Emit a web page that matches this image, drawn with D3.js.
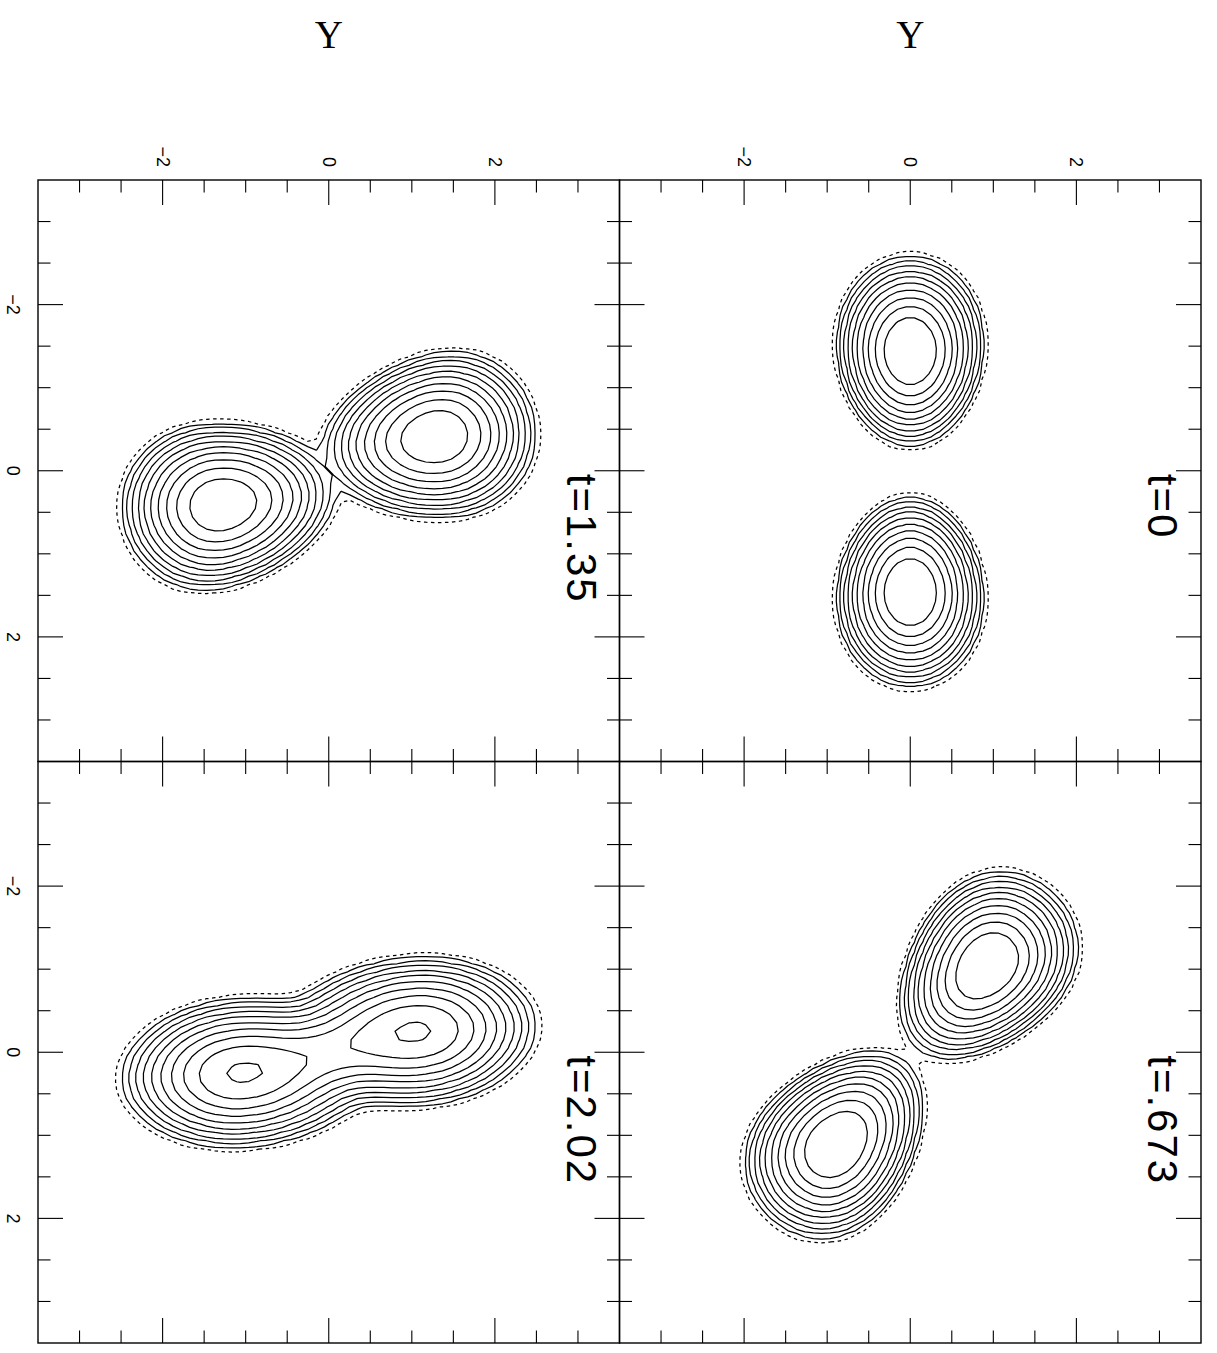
<!DOCTYPE html>
<html>
<head>
<meta charset="utf-8">
<script src="https://cdn.jsdelivr.net/npm/d3@7"></script>
<style>
	body { margin: 0; background: #fff; }
	svg { display: block; }
</style>
</head>
<body>
<svg width="1217" height="1353"></svg>
<script>

//Panels, in the order they were plotted.
var panelTimes  = ["t=0", "t=.673", "t=1.35", "t=2.02"];
var panelColumn = [1, 1, 0, 0];
var panelRow    = [0, 1, 0, 1];

//Axes: both run from -3.5 to 3.5.
var axisRange  = [-3.5, 3.5];
var majorTicks = [-2, 0, 2];
var minorTicks = [-3, -2.5, -2, -1.5, -1, -0.5, 0, 0.5, 1, 1.5, 2, 2.5, 3];

//Contour levels, a factor 2 apart; the lowest one is dashed.
var levels = [1, 0.5, 0.25, 0.125, 0.0625, 0.03125, 0.015625, 0.0078125,
	0.00390625, 0.001953125, 0.0009765625];

//Density lumps: centre, peak, width on the far side,
//width on the side facing the companion, width across, tilt, tidal taper.
var lumpPanel = [0, 0, 1, 1, 2, 2, 3, 3, 3];
var lumpX     = [-1.44, 1.46, -1.05, 1.12, -0.41, 0.41, -0.25, 0.25, 0];
var lumpY     = [0, 0, 0.93, -0.90, 1.30, -1.30, 1.065, -1.065, 0];
var lumpPeak  = [2.46, 2.46, 2.46, 2.46, 2.0, 2.0, 1.05, 1.05, 0.35];
var lumpFar   = [0.30, 0.30, 0.31, 0.31, 0.318, 0.318, 0.40, 0.40, 0.60];
var lumpNear  = [0.30, 0.30, 0.345, 0.345, 0.371, 0.371, 0.45, 0.45, 0.60];
var lumpWide  = [0.232, 0.232, 0.243, 0.243, 0.263, 0.263, 0.25, 0.25, 0.20];
var lumpTilt  = [90, 90, -50, -50, -10, -10, -4, -4, -13];
var lumpTaper = [0.06, 0.06, 0.12, 0.12, 0.1, 0.1, 0, 0, 0];

//Layout.
var frameLeft = 38, frameTop = 180, panelSize = 581.5;
var gridN = 70;
var longTick = 25, shortTick = 12.5;

var svg = d3.select("svg");

//Density of one panel at (X, Y).
function density(p, X, Y) {
	var total = 0;
	for (var i = 0; i < lumpPanel.length; i++) {
		if (lumpPanel[i] !== p) continue;
		var a = lumpTilt[i] * Math.PI / 180;
		var dY = Y - lumpY[i], dX = X - lumpX[i];
		var u = dY * Math.cos(a) + dX * Math.sin(a);
		var v = -dY * Math.sin(a) + dX * Math.cos(a);
		var toward = -(lumpY[i] * Math.cos(a) + lumpX[i] * Math.sin(a));
		var ut = (toward >= 0 ? 1 : -1) * u;
		var sLong = ut > 0 ? lumpNear[i] : lumpFar[i];
		var wide = lumpWide[i] * Math.exp(-lumpTaper[i] * Math.max(-1.5, Math.min(1.5, ut)));
		total += lumpPeak[i] * Math.exp(-u * u / (2 * sLong * sLong) - v * v / (2 * wide * wide));
	}
	return total;
}

var step = (axisRange[1] - axisRange[0]) / (gridN - 1);

panelTimes.forEach(function(label, p) {

	var left = frameLeft + panelColumn[p] * panelSize;
	var top = frameTop + panelRow[p] * panelSize;

	//Y runs to the right, X runs down the page.
	var sx = d3.scaleLinear().domain(axisRange).range([left, left + panelSize]);
	var sy = d3.scaleLinear().domain(axisRange).range([top, top + panelSize]);

	var g = svg.append("g");

//--------------------------------CONTOURS--------------------------------------

	var values = new Array(gridN * gridN);
	for (var j = 0; j < gridN; j++) {
		for (var i = 0; i < gridN; i++) {
			values[i + j * gridN] = density(p, axisRange[0] + j * step, axisRange[0] + i * step);
		}
	}

	var toScreen = d3.geoTransform({
		point: function(gx, gy) {
			this.stream.point(sx(axisRange[0] + (gx - 0.5) * step), sy(axisRange[0] + (gy - 0.5) * step));
		}
	});
	var path = d3.geoPath(toScreen);

	var lowest = d3.min(levels);
	g.selectAll("path.contour")
	  .data(d3.contours().size([gridN, gridN]).thresholds(levels)(values))
	  .enter().append("path")
		.attr("class", "contour")
		.attr("d", path)
		.attr("fill", "none")
		.attr("stroke", "#000")
		.attr("stroke-width", 1.25)
		.attr("stroke-linejoin", "round")
		.attr("stroke-dasharray", function(d) { return d.value === lowest ? "3.5,3.5" : null; });

//--------------------------------FRAME AND TICKS-------------------------------

	g.append("rect")
		.attr("x", left).attr("y", top)
		.attr("width", panelSize).attr("height", panelSize)
		.attr("fill", "none").attr("stroke", "#000").attr("stroke-width", 1.4);

	function len(v) { return majorTicks.indexOf(v) >= 0 ? longTick : shortTick; }

	var ticks = g.append("g").attr("stroke", "#000").attr("stroke-width", 1.1);
	ticks.selectAll("line.top").data(minorTicks).enter().append("line")
		.attr("x1", sx).attr("x2", sx)
		.attr("y1", top).attr("y2", function(d) { return top + len(d); });
	ticks.selectAll("line.bottom").data(minorTicks).enter().append("line")
		.attr("x1", sx).attr("x2", sx)
		.attr("y1", top + panelSize).attr("y2", function(d) { return top + panelSize - len(d); });
	ticks.selectAll("line.left").data(minorTicks).enter().append("line")
		.attr("y1", sy).attr("y2", sy)
		.attr("x1", left).attr("x2", function(d) { return left + len(d); });
	ticks.selectAll("line.right").data(minorTicks).enter().append("line")
		.attr("y1", sy).attr("y2", sy)
		.attr("x1", left + panelSize).attr("x2", function(d) { return left + panelSize - len(d); });

//--------------------------------LABELS----------------------------------------

	//Time stamp, written along the panel.
	g.append("text")
		.attr("transform", "translate(" + (left + panelSize - 53) + "," + (sy(0) + 3) + ") rotate(90)")
		.attr("font-family", "Liberation Sans, Arial, sans-serif")
		.attr("font-size", "42px")
		.attr("letter-spacing", "2px")
		.text(label);

	//Y tick labels above the top row.
	if (panelRow[p] === 0) {
		g.selectAll("text.ytick").data(majorTicks).enter().append("text")
			.attr("class", "ytick")
			.attr("transform", function(d) { return "translate(" + sx(d) + "," + (top - 13) + ") rotate(90)"; })
			.attr("text-anchor", "end")
			.attr("dominant-baseline", "central")
			.attr("font-family", "Liberation Sans, Arial, sans-serif")
			.attr("font-size", "18px")
			.text(function(d) { return d < 0 ? "\u2212" + (-d) : d; });

		g.append("text")
			.attr("x", sx(0)).attr("y", 48)
			.attr("text-anchor", "middle")
			.attr("font-family", "Liberation Serif, Times New Roman, serif")
			.attr("font-size", "39px")
			.text("Y");
	}

	//X tick labels left of the left column.
	if (panelColumn[p] === 0) {
		g.selectAll("text.xtick").data(majorTicks).enter().append("text")
			.attr("class", "xtick")
			.attr("transform", function(d) { return "translate(13," + sy(d) + ") rotate(90)"; })
			.attr("text-anchor", "middle")
			.attr("dominant-baseline", "central")
			.attr("font-family", "Liberation Sans, Arial, sans-serif")
			.attr("font-size", "18px")
			.text(function(d) { return d < 0 ? "\u2212" + (-d) : d; });
	}
});

</script>
</body>
</html>
